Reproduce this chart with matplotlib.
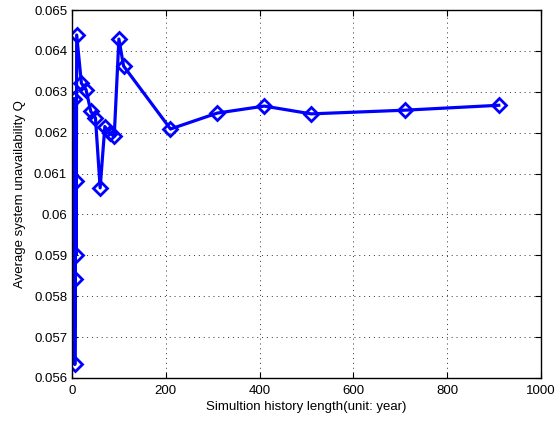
import matplotlib
matplotlib.use('Agg')
import matplotlib.pyplot as plt
from matplotlib.ticker import FuncFormatter

plt.rcParams['font.family'] = ['Liberation Sans', 'DejaVu Sans']

# history length (years) and average unavailability Q
years = [5, 6, 7, 8, 9, 10, 20, 30, 40, 50, 60, 70, 80, 90, 100, 110,
         210, 310, 410, 510, 710, 910]
q = [0.06283, 0.05633, 0.05843, 0.06083, 0.05902, 0.06439,
     0.06321, 0.06305, 0.06252, 0.06236, 0.06065, 0.06215, 0.06199, 0.06191,
     0.06429, 0.06363, 0.06209, 0.06248, 0.06265, 0.06246, 0.06255, 0.06267]

fig = plt.figure(figsize=(5.56, 4.26), dpi=100)
ax = fig.add_axes([0.1295, 0.1127, 0.8435, 0.8638])

ax.plot(years, q, color='#0000ff', linewidth=2.3, marker='D', markersize=7,
        markerfacecolor='none', markeredgewidth=2)

ax.set_xlim(0, 1000)
ax.set_ylim(0.056, 0.065)
ax.set_xticks(range(0, 1001, 200))
ax.set_yticks([0.056 + 0.001 * i for i in range(10)])
ax.yaxis.set_major_formatter(FuncFormatter(lambda v, p: '%g' % round(v, 3)))

ax.grid(True, linestyle=(0, (1, 4)), color='#333333', linewidth=0.7)
ax.tick_params(direction='in', top=True, right=True, labelsize=9.5, length=4)
ax.tick_params(axis='x', pad=5)
for s in ax.spines.values():
    s.set_linewidth(1)

ax.set_xlabel('Simultion history length(unit: year)', fontsize=9.5, labelpad=3)
ax.set_ylabel('Average system unavailability Q', fontsize=9.5, labelpad=6)

fig.savefig('out.png', dpi=100)
